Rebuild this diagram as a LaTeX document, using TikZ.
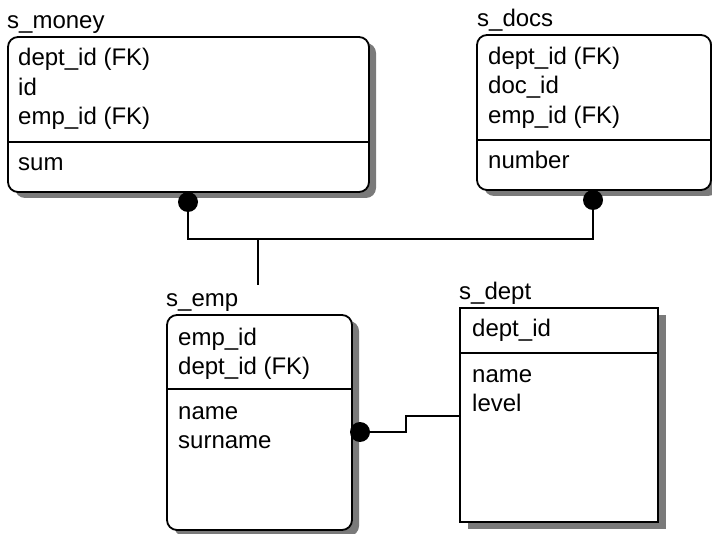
\documentclass[tikz,border=0pt]{standalone}
\usepackage{fontspec}
\setmainfont{Liberation Sans}
\usetikzlibrary{backgrounds}
\begin{document}
\begin{tikzpicture}[x=1pt,y=-1pt,
  entity/.style={draw, line width=1.8pt, fill=white, inner sep=0pt, outer sep=0pt,
    anchor=north west},
  dependent/.style={entity, rounded corners=10pt},
  shade/.style={fill=black!52},
  txt/.style={anchor=base west, inner sep=0pt, font=\fontsize{24}{29}\selectfont},
  sep/.style={line width=1.8pt},
  dotnode/.style={circle, fill=black, inner sep=0pt, minimum size=20pt},
  link/.style={line width=1.8pt}]
\useasboundingbox (0,0) rectangle (712,534);

% entity boxes
\node[dependent, minimum width=361pt, minimum height=155pt] (money) at (8,37) {};
\node[dependent, minimum width=234pt, minimum height=155pt] (docs) at (477,35) {};
\node[dependent, minimum width=185pt, minimum height=215pt] (emp) at (167,315) {};
\node[entity, minimum width=198pt, minimum height=214pt] (dept) at (460,308) {};

% drop shadows behind the boxes
\begin{scope}[on background layer]
  \fill[shade, rounded corners=10pt] ([shift={(7pt,-6pt)}]money.north west) rectangle ([shift={(7pt,-6pt)}]money.south east);
  \fill[shade, rounded corners=10pt] ([shift={(7pt,-6pt)}]docs.north west) rectangle ([shift={(7pt,-6pt)}]docs.south east);
  \fill[shade, rounded corners=10pt] ([shift={(7pt,-6pt)}]emp.north west) rectangle ([shift={(7pt,-6pt)}]emp.south east);
  \fill[shade] ([shift={(8pt,-7pt)}]dept.north west) rectangle ([shift={(8pt,-7pt)}]dept.south east);
\end{scope}

% key / non-key separators
\draw[sep] ([yshift=-105pt]money.north west) -- ([yshift=-105pt]money.north east);
\draw[sep] ([yshift=-105pt]docs.north west) -- ([yshift=-105pt]docs.north east);
\draw[sep] ([yshift=-74pt]emp.north west) -- ([yshift=-74pt]emp.north east);
\draw[sep] ([yshift=-45pt]dept.north west) -- ([yshift=-45pt]dept.north east);

% s_money
\node[txt] (tmoney) at (7,29) {s\_money};
\node[txt] (m1) at (18,65.5) {dept\_id (FK)};
\node[txt] (m2) at (18,95.5) {id};
\node[txt] (m3) at (18,125) {emp\_id (FK)};
\node[txt] (m4) at (18,171) {sum};

% s_docs
\node[txt] (tdocs) at (477,27) {s\_docs};
\node[txt] (c1) at (488,64.5) {dept\_id (FK)};
\node[txt] (c2) at (488,94) {doc\_id};
\node[txt] (c3) at (488,123.5) {emp\_id (FK)};
\node[txt] (c4) at (488,169) {number};

% s_emp
\node[txt] (temp) at (166,307) {s\_emp};
\node[txt] (e1) at (178,345.5) {emp\_id};
\node[txt] (e2) at (178,374) {dept\_id (FK)};
\node[txt] (e3) at (178,419) {name};
\node[txt] (e4) at (178,448) {surname};

% s_dept
\node[txt] (tdept) at (459,300) {s\_dept};
\node[txt] (p1) at (472,337) {dept\_id};
\node[txt] (p2) at (472,382) {name};
\node[txt] (p3) at (472,411) {level};

% relationship ends
\coordinate (junc) at (258,239);
\coordinate (jend) at (258,285);
\coordinate (bend) at (406,416);
\node[dotnode] (dm) at (188,202) {};
\node[dotnode] (dd) at (593,200) {};
\node[dotnode] (de) at (360,432) {};

% connectors
\draw[link] (dm.center) |- (junc);
\draw[link] (dd.center) |- (junc);
\draw[link] (junc) -- (jend);
\draw[link] (de.center) -| (bend) -- (bend -| dept.west);
\end{tikzpicture}
\end{document}
